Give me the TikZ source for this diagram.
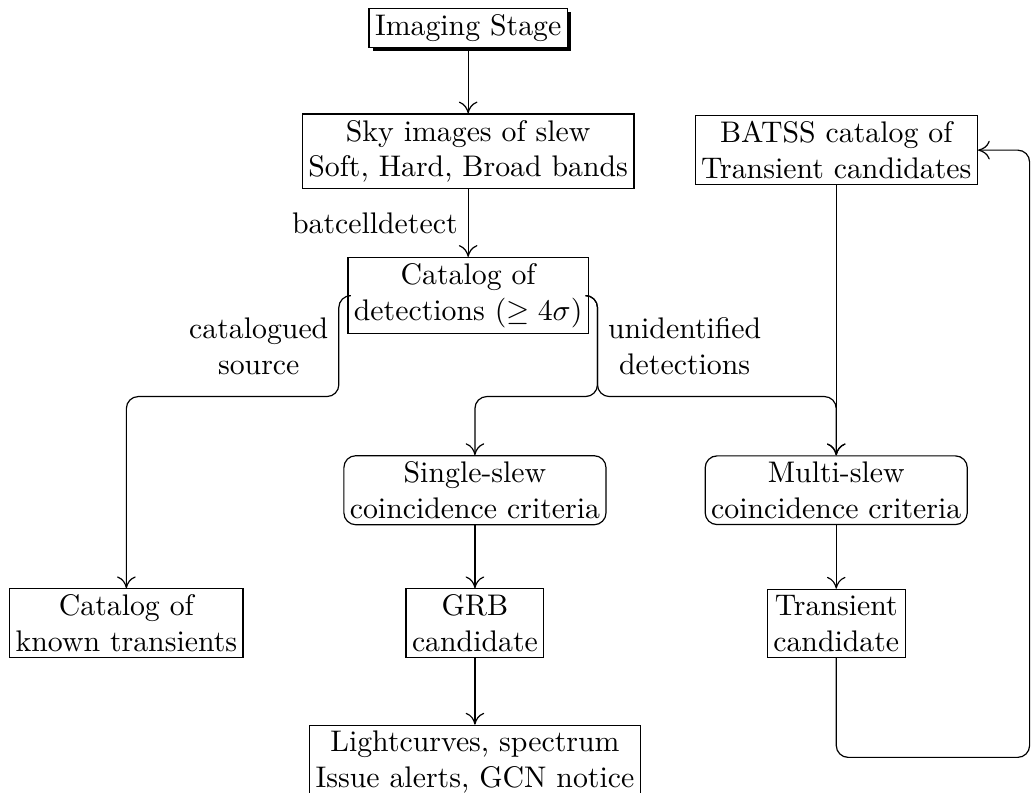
\documentclass[tikz,border=0pt]{standalone}
\usepackage{amsmath}
\usepackage{amssymb}
\usetikzlibrary{arrows, arrows.meta, positioning, calc, shadows}
\tikzset{
  stage/.style={rectangle,draw=black,fill=white,inner sep=2pt,align=center},
  stage_s/.style={stage,drop shadow={shadow xshift=1.3pt,shadow yshift=-1.3pt,fill=black,opacity=1}},
  criteria/.style={stage,rounded corners=4pt},
  flow/.style={-{To[scale length=1.6,scale width=1.2]},black},
  branch/.style={flow,rounded corners=4pt},
  note/.style={align=center},
}

\begin{document}
\begin{tikzpicture}
	    \useasboundingbox (0,0) rectangle (12.18,-9.34);
	    \node[stage_s] (imaging) at (5.52,-0.33) {Imaging Stage};
	    \node[stage,below=0.77cm of imaging] (sky) {Sky images of slew\\Soft, Hard, Broad bands};
	    \node[stage,below=0.8cm of sky] (cat) {Catalog of\\detections ($\geq 4\sigma$)};
	    \node[stage] (batss) at (9.86,-1.77) {BATSS catalog of\\Transient candidates};
	    \node[criteria] (single) at (5.60,-5.78) {Single-slew\\coincidence criteria};
	    \node[criteria] (multi) at (9.86,-5.78) {Multi-slew\\coincidence criteria};
	    \node[stage] (known) at (1.49,-7.35) {Catalog of\\known transients};
	    \node[stage] (grb) at (5.60,-7.35) {GRB\\candidate};
	    \node[stage] (trans) at (9.86,-7.35) {Transient\\candidate};
	    \node[stage,below=0.78cm of grb] (light) {Lightcurves, spectrum\\Issue alerts, GCN notice};
	    \coordinate (back) at (12.14,-8.93);
	    \draw[flow] (imaging) -- (sky);
	    \draw[flow] (sky) -- node[left] {batcelldetect} (cat);
	    \draw[branch] (cat.west) -- ++(-0.1,0) -- ++(0,-1.19) node[midway,left,note] {catalogued\\source} -| (known.north);
	    \draw[branch] (cat.east) -- ++(0.1,0) -- ++(0,-1.19) node[midway,right,note] {unidentified\\detections} -| (single.north);
	    \draw[branch] (cat.east) -- ++(0.1,0) -- ++(0,-1.19) -| (multi.north);
	    \draw[flow] (batss) -- (multi);
	    \draw[flow] (single) -- (grb);
	    \draw[flow] (grb) -- (light);
	    \draw[flow] (multi) -- (trans);
	    \draw[branch] (trans.south) |- (back) |- (batss.east);
	\end{tikzpicture}
\end{document}
